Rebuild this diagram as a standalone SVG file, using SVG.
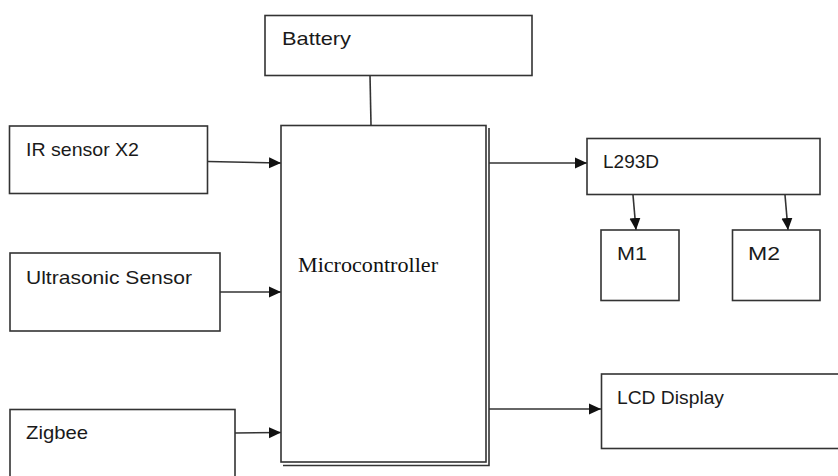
<svg xmlns="http://www.w3.org/2000/svg" width="838" height="476" viewBox="0 0 838 476">
  <defs>
    <marker id="arrow" markerUnits="userSpaceOnUse" markerWidth="12" markerHeight="12" viewBox="0 0 12 12" refX="12" refY="6" orient="auto">
      <path d="M0,0.5 L12,6 L0,11.5 Z" fill="#111"/>
    </marker>
  </defs>
  <style>
    .box { fill: #fff; stroke: #333; stroke-width: 1.6; }
    .lbl { font-family: "Liberation Sans", Arial, sans-serif; font-size: 19px; fill: #1a1a1a; }
    .mc { font-family: "Liberation Serif", "Times New Roman", serif; font-size: 21px; fill: #111; }
    .conn { stroke: #333; stroke-width: 1.6; fill: none; }
  </style>
  <rect width="838" height="476" fill="#fff"/>

  <g id="connectors">
    <line class="conn" x1="370" y1="75" x2="371" y2="125"/>
    <line class="conn" x1="208" y1="161.5" x2="281" y2="163" marker-end="url(#arrow)"/>
    <line class="conn" x1="220" y1="292" x2="281" y2="292" marker-end="url(#arrow)"/>
    <line class="conn" x1="235" y1="433" x2="281" y2="432.5" marker-end="url(#arrow)"/>
    <line class="conn" x1="489" y1="163" x2="587" y2="163" marker-end="url(#arrow)"/>
    <line class="conn" x1="633" y1="195" x2="636" y2="230" marker-end="url(#arrow)"/>
    <line class="conn" x1="785" y1="195" x2="788" y2="230" marker-end="url(#arrow)"/>
    <line class="conn" x1="489" y1="409" x2="601" y2="409" marker-end="url(#arrow)"/>
  </g>

  <g id="battery">
    <rect class="box" x="265" y="15.5" width="267" height="60"/>
    <text class="lbl" x="282" y="45" textLength="69" lengthAdjust="spacingAndGlyphs">Battery</text>
  </g>

  <g id="ir-sensor">
    <rect class="box" x="9.5" y="126" width="198" height="67.5"/>
    <text class="lbl" x="26" y="156" textLength="113" lengthAdjust="spacingAndGlyphs">IR sensor X2</text>
  </g>

  <g id="ultrasonic">
    <rect class="box" x="10" y="253" width="210" height="78"/>
    <text class="lbl" x="26" y="284" textLength="166" lengthAdjust="spacingAndGlyphs">Ultrasonic Sensor</text>
  </g>

  <g id="zigbee">
    <rect class="box" x="10" y="409.5" width="225" height="75"/>
    <text class="lbl" x="26" y="439" textLength="62" lengthAdjust="spacingAndGlyphs">Zigbee</text>
  </g>

  <g id="microcontroller">
    <path class="conn" d="M489,128 V465.5 H283"/>
    <rect class="box" x="281" y="125.5" width="205" height="336.5"/>
    <text class="mc" x="298" y="272" textLength="140" lengthAdjust="spacingAndGlyphs">Microcontroller</text>
  </g>

  <g id="l293d">
    <rect class="box" x="587" y="138.5" width="233" height="56"/>
    <text class="lbl" x="603" y="168" textLength="56" lengthAdjust="spacingAndGlyphs">L293D</text>
  </g>

  <g id="m1">
    <rect class="box" x="601" y="230" width="78" height="70.5"/>
    <text class="lbl" x="617" y="260" textLength="30" lengthAdjust="spacingAndGlyphs">M1</text>
  </g>

  <g id="m2">
    <rect class="box" x="732.5" y="230" width="87.5" height="70.5"/>
    <text class="lbl" x="748" y="260" textLength="32" lengthAdjust="spacingAndGlyphs">M2</text>
  </g>

  <g id="lcd">
    <rect class="box" x="601.5" y="374" width="245" height="74.5"/>
    <text class="lbl" x="617" y="404" textLength="107" lengthAdjust="spacingAndGlyphs">LCD Display</text>
  </g>
</svg>
